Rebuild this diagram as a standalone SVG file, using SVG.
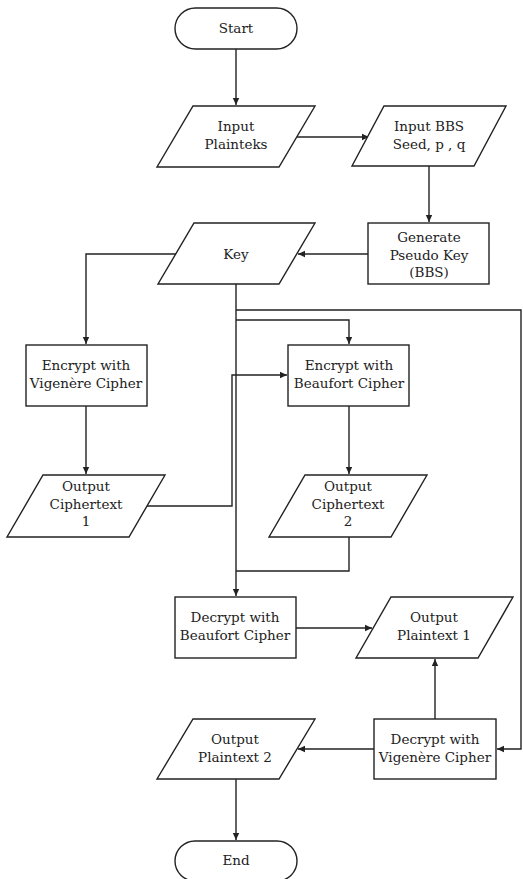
<svg xmlns="http://www.w3.org/2000/svg" width="523" height="879" viewBox="0 0 523 879">
<style>
.s{fill:#fff;stroke:#222;stroke-width:1.4}
.c{fill:none;stroke:#222;stroke-width:1.4}
text{font-family:"DejaVu Serif","Liberation Serif",serif;font-size:13.5px;fill:#222;text-anchor:middle}
</style>
<defs>
<marker id="ah" markerUnits="userSpaceOnUse" markerWidth="8" markerHeight="8" refX="7" refY="4" orient="auto">
<path d="M0,0.8 L7,4 L0,7.2 z" fill="#222"/>
</marker>
</defs>
<rect width="523" height="879" fill="#fff"/>
<g id="connectors">
<path class="c" d="M236,49 V105" marker-end="url(#ah)"/>
<path class="c" d="M297,137 H369" marker-end="url(#ah)"/>
<path class="c" d="M429,166 V222" marker-end="url(#ah)"/>
<path class="c" d="M368,254 H298" marker-end="url(#ah)"/>
<path class="c" d="M176,254 H86 V344" marker-end="url(#ah)"/>
<path class="c" d="M236,284 V596" marker-end="url(#ah)"/>
<path class="c" d="M236,310 H521 V749 H497" marker-end="url(#ah)"/>
<path class="c" d="M236,320 H349 V344" marker-end="url(#ah)"/>
<path class="c" d="M86,406 V474" marker-end="url(#ah)"/>
<path class="c" d="M146,506 H232 V375 H287" marker-end="url(#ah)"/>
<path class="c" d="M349,406 V474" marker-end="url(#ah)"/>
<path class="c" d="M349,537 V571 H236"/>
<path class="c" d="M296,628 H372" marker-end="url(#ah)"/>
<path class="c" d="M435,719 V659" marker-end="url(#ah)"/>
<path class="c" d="M374,749 H298" marker-end="url(#ah)"/>
<path class="c" d="M236,779 V840" marker-end="url(#ah)"/>
</g>
<g id="start">
<rect class="s" x="175" y="8" width="122" height="41" rx="20.5"/>
<text x="236" y="33">Start</text>
</g>
<g id="input-plainteks">
<polygon class="s" points="193,106 315,106 279,167 157,167"/>
<text x="236" y="131">Input</text>
<text x="236" y="149">Plainteks</text>
</g>
<g id="input-bbs">
<polygon class="s" points="384,106 506,106 474,166 352,166"/>
<text x="429" y="131">Input BBS</text>
<text x="429" y="149">Seed, p , q</text>
</g>
<g id="generate-key">
<rect class="s" x="368" y="223" width="121" height="61"/>
<text x="429" y="242">Generate</text>
<text x="429" y="259.5">Pseudo Key</text>
<text x="429" y="277">(BBS)</text>
</g>
<g id="key">
<polygon class="s" points="194,223 315,223 279,284 158,284"/>
<text x="236" y="259">Key</text>
</g>
<g id="encrypt-vigenere">
<rect class="s" x="26" y="345" width="121" height="61"/>
<text x="86" y="370">Encrypt with</text>
<text x="86" y="387.5">Vigenère Cipher</text>
</g>
<g id="encrypt-beaufort">
<rect class="s" x="288" y="345" width="121" height="61"/>
<text x="349" y="370">Encrypt with</text>
<text x="349" y="387.5">Beaufort Cipher</text>
</g>
<g id="output-ciphertext-1">
<polygon class="s" points="43,475 165,475 129,537 7,537"/>
<text x="86" y="491">Output</text>
<text x="86" y="509">Ciphertext</text>
<text x="86" y="526">1</text>
</g>
<g id="output-ciphertext-2">
<polygon class="s" points="305,475 427,475 391,537 269,537"/>
<text x="348" y="491">Output</text>
<text x="348" y="509">Ciphertext</text>
<text x="348" y="526">2</text>
</g>
<g id="decrypt-beaufort">
<rect class="s" x="175" y="597" width="121" height="61"/>
<text x="235" y="622">Decrypt with</text>
<text x="235" y="640">Beaufort Cipher</text>
</g>
<g id="output-plaintext-1">
<polygon class="s" points="391,597 513,597 478,658 356,658"/>
<text x="434" y="622">Output</text>
<text x="434" y="640">Plaintext 1</text>
</g>
<g id="decrypt-vigenere">
<rect class="s" x="374" y="719" width="122" height="60"/>
<text x="435" y="744">Decrypt with</text>
<text x="435" y="762">Vigenère Cipher</text>
</g>
<g id="output-plaintext-2">
<polygon class="s" points="193,719 315,719 279,779 157,779"/>
<text x="235" y="744">Output</text>
<text x="235" y="762">Plaintext 2</text>
</g>
<g id="end">
<rect class="s" x="175" y="841" width="122" height="40" rx="20"/>
<text x="236" y="865">End</text>
</g>
</svg>
